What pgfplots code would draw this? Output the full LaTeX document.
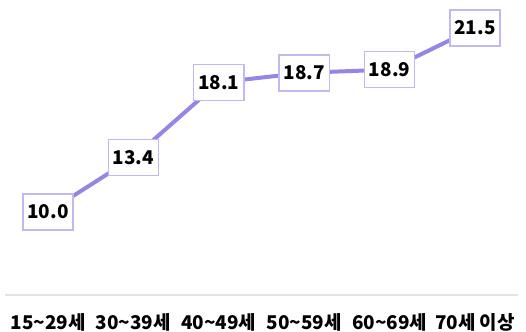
\documentclass[border=0pt]{standalone}
\usepackage{pgfplots}
\pgfplotsset{compat=1.18}
\usepackage{fontspec}
\setmainfont{Noto Sans CJK KR}
\definecolor{lineC}{HTML}{9685E4}
\definecolor{boxC}{HTML}{C3B8F4}
\definecolor{baseC}{HTML}{E4E4E4}
\begin{document}
\begin{tikzpicture}[x=1bp,y=1bp]
\useasboundingbox (0,0) rectangle (526,331);
\begin{axis}[
    at={(5.3bp,36bp)}, anchor=south west,
    scale only axis, width=512.4bp, height=295bp,
    xmin=-0.5, xmax=5.5, ymin=4.81, ymax=23.25,
    axis y line=none,
    axis x line=bottom,
    axis line style={baseC, line width=1.5bp, -},
    xtick=data,
    xticklabels={15\textasciitilde29세, 30\textasciitilde39세, 40\textasciitilde49세, 50\textasciitilde59세, 60\textasciitilde69세, 70세 이상},
    major tick length=0pt,
    xticklabel style={font=\bfseries\fontsize{19}{19}\selectfont, text=black, yshift=-15bp, inner xsep=0pt},
    clip=false,
    nodes near coords,
    point meta=explicit symbolic,
    every node near coord/.append style={anchor=center, draw=boxC, line width=1.5bp, fill=white,
        font=\bfseries\fontsize{19}{19}\selectfont, text=black, minimum height=36bp, inner xsep=4.5bp},
]
\addplot[lineC, line width=4bp, mark=none] table[x=x, y=y, meta=label] {
x y label
0 10.0 10.0
1 13.4 13.4
2 18.1 18.1
3 18.7 18.7
4 18.9 18.9
5 21.5 21.5
};
\end{axis}
\end{tikzpicture}
\end{document}
